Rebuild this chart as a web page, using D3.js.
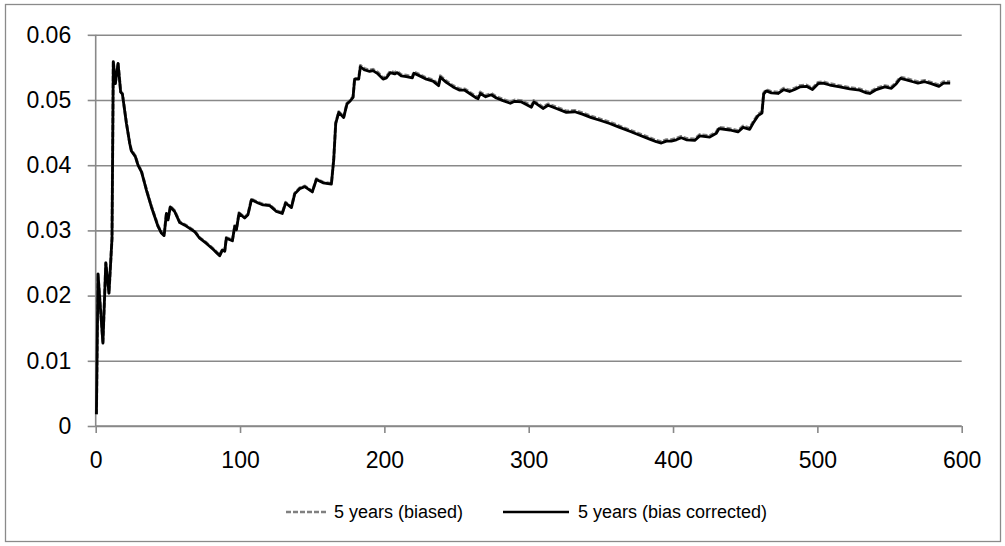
<!DOCTYPE html>
<html><head><meta charset="utf-8">
<script src="https://cdn.jsdelivr.net/npm/d3@7"></script>
<style>
html,body{margin:0;padding:0;background:#fff;}
svg{display:block;font-family:"Liberation Sans",Arial,sans-serif;}
</style></head>
<body><svg id="c" width="1005" height="546"></svg>
<script>
const xValues = [0.5,1.6,5.0,7.0,9.2,11.3,12.2,13.6,15.5,17.3,18.5,21.3,23.6,24.7,27.5,29.3,31.7,35.1,38.6,43.2,45.5,47.4,49.0,50.1,51.7,54.7,58.2,61.7,65.1,68.6,72.0,76.7,81.3,85.9,87.8,89.4,90.5,94.7,96.3,97.5,99.3,103.2,105.5,107.9,112.5,116.0,120.6,125.2,129.3,131.6,135.6,137.9,141.3,144.8,150.1,152.9,157.5,163.3,164.9,166.3,168.4,171.8,174.1,176.5,178.3,179.4,182.2,183.4,186.4,189.8,192.1,195.6,199.1,201.4,204.1,207.2,208.8,211.7,215.2,219.4,220.5,224.5,229.1,233.7,237.6,238.8,242.9,247.6,252.2,255.7,259.1,263.8,264.9,266.5,270.2,274.1,277.6,282.2,287.3,290.3,295.0,301.9,303.5,309.9,313.4,319.2,326.1,331.9,337.6,343.4,349.2,356.1,363.0,370.0,376.9,383.8,388.4,391.9,395.4,398.8,402.3,405.7,409.2,415.0,418.5,425.4,430.0,431.8,439.3,445.0,448.5,453.1,455.9,458.9,461.6,462.8,464.6,468.1,472.7,476.7,480.8,484.3,487.8,492.4,496.6,500.5,503.9,508.6,515.5,522.4,529.3,534.0,536.3,540.9,546.7,551.3,554.7,557.5,561.7,566.2,569.7,574.3,578.9,584.2,587.4,592.0];

const correctedValues = [0.0018,0.0233,0.0127,0.0250,0.0204,0.0288,0.0559,0.0525,0.0556,0.0512,0.0509,0.0464,0.0433,0.0422,0.0413,0.0400,0.0390,0.0362,0.0336,0.0306,0.0296,0.0292,0.0326,0.0316,0.0336,0.0329,0.0312,0.0308,0.0303,0.0298,0.0288,0.0280,0.0271,0.0261,0.0270,0.0268,0.0288,0.0284,0.0306,0.0301,0.0326,0.0319,0.0324,0.0347,0.0342,0.0339,0.0338,0.0329,0.0326,0.0342,0.0335,0.0356,0.0364,0.0367,0.0359,0.0378,0.0373,0.0371,0.0408,0.0464,0.0481,0.0473,0.0494,0.0499,0.0504,0.0532,0.0532,0.0551,0.0546,0.0544,0.0545,0.0540,0.0532,0.0534,0.0542,0.0540,0.0542,0.0537,0.0536,0.0534,0.0541,0.0537,0.0532,0.0529,0.0522,0.0535,0.0527,0.0520,0.0515,0.0515,0.0510,0.0503,0.0502,0.0510,0.0505,0.0508,0.0503,0.0499,0.0495,0.0498,0.0497,0.0489,0.0497,0.0487,0.0492,0.0487,0.0481,0.0482,0.0478,0.0473,0.0469,0.0464,0.0458,0.0452,0.0446,0.0440,0.0436,0.0434,0.0437,0.0437,0.0439,0.0442,0.0439,0.0438,0.0445,0.0443,0.0449,0.0456,0.0454,0.0451,0.0458,0.0455,0.0466,0.0476,0.0480,0.0509,0.0514,0.0511,0.0510,0.0516,0.0513,0.0516,0.0520,0.0521,0.0516,0.0525,0.0526,0.0523,0.0520,0.0517,0.0515,0.0511,0.0510,0.0516,0.0520,0.0518,0.0525,0.0533,0.0531,0.0528,0.0526,0.0528,0.0525,0.0521,0.0526,0.0526];

const biasedValues = [0.0018,0.0233,0.0127,0.0250,0.0204,0.0288,0.0560,0.0526,0.0557,0.0513,0.0510,0.0465,0.0434,0.0423,0.0414,0.0401,0.0391,0.0363,0.0337,0.0307,0.0297,0.0293,0.0327,0.0317,0.0337,0.0330,0.0313,0.0309,0.0304,0.0299,0.0289,0.0281,0.0272,0.0262,0.0271,0.0269,0.0289,0.0285,0.0307,0.0302,0.0327,0.0320,0.0325,0.0348,0.0343,0.0340,0.0339,0.0330,0.0327,0.0343,0.0336,0.0357,0.0365,0.0368,0.0360,0.0379,0.0374,0.0372,0.0409,0.0465,0.0482,0.0474,0.0495,0.0500,0.0505,0.0533,0.0533,0.0553,0.0548,0.0546,0.0547,0.0542,0.0534,0.0536,0.0544,0.0542,0.0544,0.0539,0.0538,0.0536,0.0543,0.0539,0.0534,0.0531,0.0524,0.0537,0.0529,0.0522,0.0517,0.0517,0.0512,0.0505,0.0504,0.0512,0.0507,0.0510,0.0505,0.0501,0.0497,0.0500,0.0499,0.0491,0.0499,0.0489,0.0494,0.0489,0.0483,0.0484,0.0480,0.0475,0.0471,0.0466,0.0460,0.0454,0.0448,0.0442,0.0438,0.0436,0.0439,0.0439,0.0441,0.0444,0.0441,0.0440,0.0447,0.0445,0.0451,0.0458,0.0456,0.0453,0.0460,0.0457,0.0468,0.0478,0.0482,0.0511,0.0516,0.0513,0.0512,0.0518,0.0515,0.0518,0.0522,0.0523,0.0518,0.0527,0.0528,0.0525,0.0522,0.0519,0.0517,0.0513,0.0512,0.0518,0.0522,0.0520,0.0527,0.0535,0.0533,0.0530,0.0528,0.0530,0.0527,0.0523,0.0528,0.0528];

const xTicks = [0,100,200,300,400,500,600];
const yTicks = [0,0.01,0.02,0.03,0.04,0.05,0.06];
const yTickLabels = ["0","0.01","0.02","0.03","0.04","0.05","0.06"];
const seriesNames = ["5 years (biased)","5 years (bias corrected)"];

const svg = d3.select("#c");
const GRID = "#898989";

// outer chart border
svg.append("rect").attr("x",5.5).attr("y",4.5).attr("width",995).attr("height",537)
  .attr("fill","none").attr("stroke","#8a8a8a").attr("stroke-width",1.3);

const x = d3.scaleLinear().domain([0,600]).range([95.7,961.7]);
const y = d3.scaleLinear().domain([0,0.06]).range([426,34.8]);

// gridlines
const grid = svg.append("g").attr("transform",`translate(${x(0)},0)`)
  .call(d3.axisLeft(y).tickValues(yTicks).tickSize(-(x(600)-x(0))).tickFormat(""));
grid.select(".domain").remove();
grid.selectAll(".tick line").attr("stroke",GRID).attr("stroke-width",1.6);

// y axis
const ya = svg.append("g").attr("transform",`translate(${x(0)},0)`)
  .call(d3.axisLeft(y).tickValues(yTicks).tickSize(8).tickPadding(16.5)
        .tickFormat((d,i)=>yTickLabels[i]));
ya.select(".domain").attr("stroke",GRID).attr("stroke-width",1.6).attr("d",`M0,${y(0.06)}V${y(0)}`);
ya.selectAll(".tick line").attr("stroke",GRID).attr("stroke-width",1.6);
ya.selectAll(".tick text").attr("font-family","Liberation Sans, Arial, sans-serif")
  .attr("font-size",23).attr("fill","#000");

// x axis
const xa = svg.append("g").attr("transform",`translate(0,${y(0)})`)
  .call(d3.axisBottom(x).tickValues(xTicks).tickSize(7).tickFormat(d3.format("d")));
xa.select(".domain").attr("stroke",GRID).attr("stroke-width",1.6).attr("d",`M${x(0)},0H${x(600)}`);
xa.selectAll(".tick line").attr("stroke",GRID).attr("stroke-width",1.6);
xa.selectAll(".tick text").attr("font-family","Liberation Sans, Arial, sans-serif")
  .attr("font-size",23).attr("fill","#000").attr("y",42.3).attr("dy",null);

// lines
const biasedData = xValues.map((v,i)=>[v,biasedValues[i]]);
const correctedData = xValues.map((v,i)=>[v,correctedValues[i]]);
const line = d3.line().x(d=>x(d[0])).y(d=>y(d[1]));

svg.append("path").datum(biasedData).attr("d",line).attr("fill","none")
  .attr("stroke","#808080").attr("stroke-width",3).attr("stroke-dasharray","5,2")
  .attr("stroke-linejoin","round");
svg.append("path").datum(correctedData).attr("d",line).attr("fill","none")
  .attr("stroke","#000").attr("stroke-width",2.8).attr("stroke-linejoin","round");

// legend
const lg = svg.append("g");
const ly = 512;
lg.append("line").attr("x1",286).attr("x2",327).attr("y1",ly).attr("y2",ly)
  .attr("stroke","#808080").attr("stroke-width",2.5).attr("stroke-dasharray","5,2");
lg.append("text").attr("x",334).attr("y",ly).attr("dy","0.36em")
  .attr("font-size",18).attr("fill","#000").text(seriesNames[0]);
lg.append("line").attr("x1",503).attr("x2",569).attr("y1",ly).attr("y2",ly)
  .attr("stroke","#000").attr("stroke-width",2.5);
lg.append("text").attr("x",578).attr("y",ly).attr("dy","0.36em")
  .attr("font-size",18).attr("fill","#000").text(seriesNames[1]);
</script></body></html>
